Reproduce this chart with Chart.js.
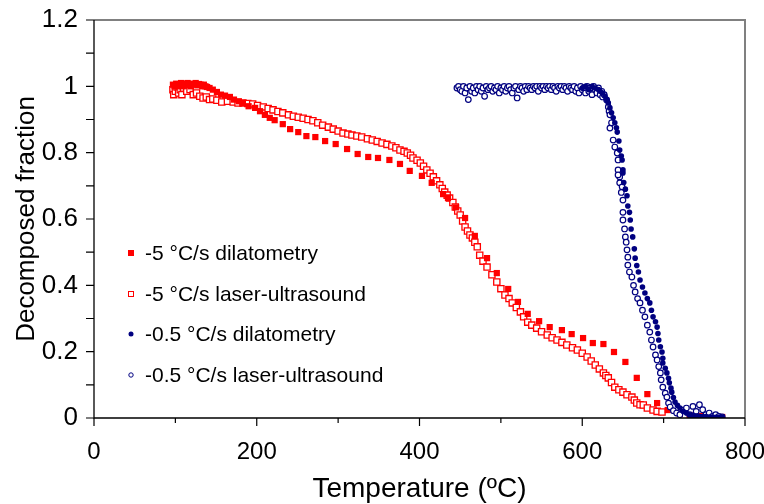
<!DOCTYPE html>
<html>
<head>
<meta charset="utf-8">
<script src="https://cdn.jsdelivr.net/npm/chart.js@4.4.0/dist/chart.umd.min.js"></script>
<style>
html,body{margin:0;padding:0;background:#fff;}
#wrap{width:764px;height:504px;position:relative;}
</style>
</head>
<body>
<div id="wrap"><canvas id="c" width="764" height="504"></canvas></div>
<script>
// ---------- data ----------
const seriesNames = ['-5 °C/s dilatometry', '-5 °C/s laser-ultrasound', '-0.5 °C/s dilatometry', '-0.5 °C/s laser-ultrasound'];

const fastDilT = [97,99,101,103,105,107,109,111,113,115,117,119,121,123,125,127,129,131,133,135,137,139,142,146,151,156,161,167,172,178,183,190,198,204,210,216,222,232,241,251,261,272,284,297,311,324,337,349,363,376,388,403,415,429,435,445,456,468,483,495,509,521,533,547,560,575,587,601,613,626,639,653,667,680,692,705,720,732,745,758,772];
const fastDilF = [1.005,1.0,1.008,1.0,1.005,1.01,1.0,1.008,1.003,1.01,1.005,1.0,1.008,1.005,1.01,1.003,1.007,1.005,1.0,1.005,1.0,0.998,0.995,0.99,0.983,0.975,0.972,0.968,0.96,0.955,0.95,0.94,0.935,0.925,0.914,0.905,0.898,0.886,0.871,0.862,0.850,0.847,0.835,0.826,0.811,0.796,0.787,0.784,0.778,0.766,0.745,0.730,0.709,0.675,0.663,0.635,0.603,0.549,0.482,0.437,0.389,0.350,0.314,0.292,0.274,0.265,0.253,0.241,0.226,0.223,0.199,0.169,0.121,0.072,0.045,0.024,0.012,0.008,0.006,0.004,0.003];

const fastLusT = [97,98,100,102,104,106,108,110,114,118,122,126,130,134,138,142,146,151,157,164,171,177,183,189,195,201,208,214,220,226,232,239,245,251,257,263,269,275,281,288,294,300,306,312,317,323,329,336,342,348,354,360,366,371,376,381,385,389,392,397,401,405,409,413,417,421,425,428,431,434,437,441,444,447,450,453,456,459,462,465,468,471,474,478,483,489,495,500,505,510,514,519,524,528,533,538,544,550,557,563,569,575,581,588,594,600,606,611,616,621,626,629,632,636,640,645,650,655,661,664,667,671,675,680,687,692,698];
const fastLusF = [0.99,0.975,0.985,0.998,0.98,0.99,0.975,0.995,0.985,0.99,0.975,0.98,0.97,0.965,0.968,0.96,0.962,0.958,0.953,0.955,0.953,0.95,0.95,0.948,0.947,0.942,0.938,0.933,0.929,0.924,0.92,0.914,0.91,0.907,0.904,0.9,0.896,0.89,0.883,0.877,0.871,0.865,0.859,0.856,0.853,0.85,0.847,0.842,0.838,0.834,0.829,0.825,0.820,0.815,0.808,0.804,0.799,0.792,0.784,0.777,0.769,0.759,0.748,0.738,0.727,0.715,0.703,0.692,0.681,0.672,0.663,0.65,0.636,0.624,0.612,0.594,0.576,0.564,0.552,0.543,0.53,0.516,0.491,0.473,0.455,0.432,0.41,0.39,0.371,0.36,0.347,0.333,0.32,0.305,0.289,0.28,0.271,0.26,0.25,0.242,0.235,0.228,0.22,0.212,0.205,0.195,0.184,0.172,0.16,0.148,0.136,0.128,0.121,0.107,0.093,0.085,0.078,0.07,0.063,0.054,0.045,0.04,0.039,0.03,0.024,0.02,0.018];

const slowDilT = [600,604,608,612,616,620,622,625,628,630,632,634,636,638,640,642,643,645,646,648,649,650,650,651,653,655,656,658,659,660,662,664,665,667,669,671,674,677,680,683,685,687,690,692,693,694,696,698,699,699,702,704,706,707,709,710,712,714,717,720,724,728,732,736,740,744,748,752,756,760,764,768,772];
const slowDilF = [0.995,1.0,0.99,1.0,0.995,0.99,0.985,0.98,0.97,0.96,0.95,0.935,0.92,0.905,0.89,0.875,0.862,0.835,0.808,0.79,0.778,0.748,0.739,0.71,0.69,0.67,0.639,0.62,0.597,0.57,0.546,0.51,0.482,0.46,0.44,0.416,0.395,0.377,0.36,0.347,0.325,0.305,0.29,0.274,0.255,0.235,0.215,0.199,0.18,0.166,0.15,0.136,0.12,0.106,0.09,0.078,0.062,0.048,0.038,0.03,0.02,0.015,0.01,0.008,0.006,0.005,0.004,0.004,0.003,0.003,0.002,0.002,0.002];

const slowLusT = [446,448,450,452,454,456,458,460,462,464,466,468,470,472,474,476,478,480,482,484,486,488,490,492,494,496,498,500,502,504,506,508,510,512,514,516,518,520,522,524,526,528,530,532,534,536,538,540,542,544,546,548,550,552,554,556,558,560,562,564,566,568,570,572,574,576,578,580,582,584,586,588,590,592,594,596,598,600,602,604,606,608,610,612,614,616,618,620,622,624,625,627,630,632,633,634,634,636,638,640,643,644,644,646,646,644,649,650,648,650,650,652,653,655,654,656,656,658,661,663,665,668,671,674,677,680,683,685,687,690,692,694,696,697,699,702,704,706,708,712,716,720,724,728,732,736,740,744,748,752,756,760,764,768,772];
const slowLusF = [0.995,1.0,0.99,0.985,1.0,0.98,0.995,0.96,1.0,0.985,0.995,0.98,1.0,0.99,1.0,0.985,0.995,0.97,1.0,0.99,0.995,1.0,0.985,0.995,0.99,1.0,0.98,0.995,0.99,1.0,0.985,0.995,1.0,0.99,0.98,0.995,1.0,0.965,0.99,1.0,0.995,0.985,1.0,0.99,1.0,0.995,0.99,1.0,0.995,1.0,0.985,1.0,0.995,1.0,0.99,1.0,0.995,1.0,0.99,1.0,0.995,0.985,1.0,0.995,1.0,0.99,1.0,0.995,0.985,1.0,0.995,0.99,1.0,0.985,0.995,0.98,1.0,0.99,0.995,0.98,1.0,0.985,0.995,0.975,1.0,0.99,0.98,0.995,0.975,0.985,0.968,0.975,0.959,0.938,0.925,0.914,0.874,0.89,0.838,0.817,0.799,0.778,0.748,0.727,0.709,0.733,0.697,0.657,0.68,0.62,0.597,0.57,0.546,0.507,0.53,0.461,0.485,0.44,0.425,0.40,0.38,0.36,0.347,0.325,0.305,0.28,0.259,0.235,0.214,0.19,0.175,0.155,0.136,0.115,0.093,0.075,0.063,0.045,0.033,0.022,0.015,0.01,0.024,0.03,0.01,0.035,0.02,0.04,0.025,0.01,0.015,0.005,0.01,0.005,0.003];

const xTicks = [0,200,400,600,800];
const xTickLabels = ['0','200','400','600','800'];
const xMinorTicks = [100,300,500,700];
const yTicks = [0,0.2,0.4,0.6,0.8,1.0,1.2];
const yTickLabels = ['0','0.2','0.4','0.6','0.8','1','1.2'];
const yMinorTicks = [0.1,0.3,0.5,0.7,0.9,1.1];

// ---------- chart ----------
const RED = '#FF0000', NAVY = '#000080';
const FONT = "'Liberation Sans', Arial, sans-serif";
const pts = (t, f) => t.map((v, i) => ({x: v, y: f[i]}));

const styles = [
  {pointStyle:'rect', radius:4.4, bg:RED, border:RED, bw:0},
  {pointStyle:'rect', radius:4.4, bg:'#FFFFFF', border:RED, bw:1.3},
  {pointStyle:'circle', radius:2.8, bg:NAVY, border:NAVY, bw:0},
  {pointStyle:'circle', radius:2.8, bg:'#FFFFFF', border:NAVY, bw:1.2}
];
const dataArr = [pts(fastDilT, fastDilF), pts(fastLusT, fastLusF), pts(slowDilT, slowDilF), pts(slowLusT, slowLusF)];

const datasets = dataArr.map((d, i) => ({
  label: seriesNames[i],
  data: d,
  showLine: false,
  pointStyle: styles[i].pointStyle,
  pointRadius: styles[i].radius,
  pointHoverRadius: styles[i].radius,
  backgroundColor: styles[i].bg,
  borderColor: styles[i].border,
  pointBorderWidth: styles[i].bw,
  order: [3,4,1,2][i]
}));

const decor = {
  id: 'decor',
  afterDraw(chart) {
    const {ctx, chartArea: a, scales: {x, y}} = chart;
    ctx.save();
    // grey top/right frame
    ctx.strokeStyle = '#808080';
    ctx.lineWidth = 2;
    ctx.beginPath();
    ctx.moveTo(a.left, a.top);
    ctx.lineTo(a.right, a.top);
    ctx.lineTo(a.right, a.bottom);
    ctx.stroke();
    // axes
    ctx.strokeStyle = '#000';
    ctx.lineWidth = 1.3;
    ctx.beginPath();
    ctx.moveTo(a.left, a.top);
    ctx.lineTo(a.left, a.bottom);
    ctx.lineTo(a.right, a.bottom);
    ctx.stroke();
    // ticks
    ctx.lineWidth = 1.2;
    ctx.beginPath();
    xTicks.forEach(v => { const p = x.getPixelForValue(v); ctx.moveTo(p, a.bottom); ctx.lineTo(p, a.bottom + 8); });
    xMinorTicks.forEach(v => { const p = x.getPixelForValue(v); ctx.moveTo(p, a.bottom); ctx.lineTo(p, a.bottom + 5); });
    yTicks.concat(yMinorTicks).forEach(v => { const p = y.getPixelForValue(v); ctx.moveTo(a.left, p); ctx.lineTo(a.left - 8, p); });
    ctx.stroke();
    // legend
    const rows = [253, 294, 334, 375];
    const mx = 131, tx = 145;
    ctx.font = "21px " + FONT;
    ctx.textBaseline = 'middle';
    ctx.textAlign = 'left';
    rows.forEach((ry, i) => {
      ctx.lineWidth = 1;
      if (i === 0) { ctx.fillStyle = RED; ctx.fillRect(mx - 3, ry - 3, 6, 6); }
      if (i === 1) { ctx.strokeStyle = RED; ctx.fillStyle = '#fff'; ctx.fillRect(mx - 3, ry - 3, 6, 6); ctx.strokeRect(mx - 2.5, ry - 2.5, 5, 5); }
      if (i === 2) { ctx.fillStyle = NAVY; ctx.beginPath(); ctx.arc(mx, ry, 2.5, 0, Math.PI * 2); ctx.fill(); }
      if (i === 3) { ctx.strokeStyle = NAVY; ctx.beginPath(); ctx.arc(mx, ry, 2.2, 0, Math.PI * 2); ctx.stroke(); }
      ctx.fillStyle = '#000';
      ctx.fillText(seriesNames[i], tx, ry + 1);
    });
    ctx.restore();
  }
};

new Chart(document.getElementById('c'), {
  type: 'scatter',
  data: {datasets},
  plugins: [decor],
  options: {
    responsive: false,
    animation: false,
    devicePixelRatio: 1,
    layout: {padding: {top: 20, right: 19, left: 0, bottom: 0}},
    plugins: {legend: {display: false}, tooltip: {enabled: false}},
    scales: {
      x: {
        type: 'linear', min: 0, max: 800,
        afterBuildTicks: s => { s.ticks = xTicks.map(v => ({value: v})); },
        afterFit: s => { s.height = 86; s.paddingLeft = 0; s.paddingRight = 0; },
        grid: {display: false, drawTicks: false},
        border: {display: false},
        ticks: {
          padding: 20, color: '#000', maxRotation: 0, autoSkip: false,
          font: {family: FONT, size: 24},
          callback: (v, i) => xTickLabels[i]
        },
        title: {display: true, text: 'Temperature (ºC)', color: '#000', font: {family: FONT, size: 28, lineHeight: 1}, padding: {top: 0, bottom: 1}}
      },
      y: {
        type: 'linear', min: 0, max: 1.2,
        afterBuildTicks: s => { s.ticks = yTicks.map(v => ({value: v})); },
        afterFit: s => { s.width = 94; s.paddingTop = 0; s.paddingBottom = 0; },
        grid: {display: false, drawTicks: false},
        border: {display: false},
        ticks: {
          padding: 16, color: '#000', autoSkip: false,
          font: {family: FONT, size: 26},
          callback: (v, i) => yTickLabels[i]
        },
        title: {display: true, text: 'Decomposed fraction', color: '#000', font: {family: FONT, size: 26, lineHeight: 1}, padding: {top: 14, bottom: 0}}
      }
    }
  }
});
</script>
</body>
</html>
